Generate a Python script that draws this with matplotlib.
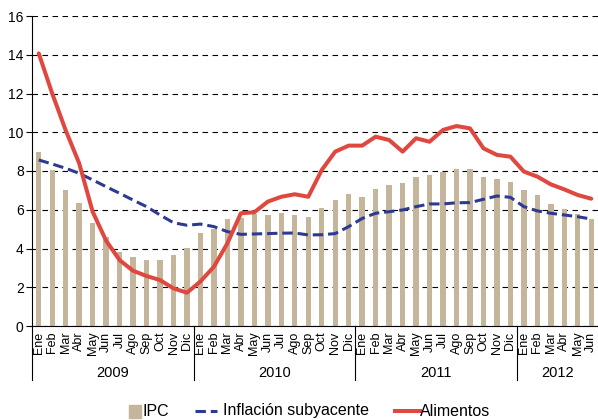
import matplotlib
matplotlib.use("Agg")
import matplotlib.pyplot as plt
import matplotlib.transforms as mtransforms
from matplotlib.lines import Line2D
from matplotlib.patches import Rectangle

plt.rcParams['font.family'] = ['Liberation Sans', 'DejaVu Sans']

meses = ["Ene", "Feb", "Mar", "Abr", "May", "Jun", "Jul", "Ago", "Sep", "Oct", "Nov", "Dic"]
anios = ["2009", "2010", "2011", "2012"]
etiquetas = meses * 3 + meses[:6]

ipc = [9.0, 8.05, 7.0, 6.36, 5.33, 4.6, 3.84, 3.58, 3.39, 3.39, 3.65, 4.03,
       4.82, 4.99, 5.5, 5.6, 5.8, 5.71, 5.85, 5.71, 5.64, 6.09, 6.49, 6.81,
       6.67, 7.07, 7.26, 7.38, 7.71, 7.78, 7.97, 8.09, 8.09, 7.71, 7.57, 7.45,
       7.0, 6.74, 6.3, 6.04, 5.78, 5.52]

subyacente = [8.57, 8.36, 8.14, 7.88, 7.54, 7.19, 6.85, 6.5, 6.16, 5.73, 5.33, 5.2,
              5.26, 5.13, 4.87, 4.73, 4.75, 4.77, 4.79, 4.8, 4.7, 4.71, 4.77, 5.13,
              5.55, 5.82, 5.9, 5.99, 6.16, 6.3, 6.3, 6.36, 6.37, 6.54, 6.71, 6.64,
              6.16, 5.94, 5.82, 5.73, 5.64, 5.52]

alimentos = [14.07, 12.0, 10.1, 8.4, 5.9, 4.4, 3.4, 2.85, 2.58, 2.37, 1.94, 1.72,
             2.3, 3.06, 4.27, 5.82, 5.87, 6.42, 6.67, 6.8, 6.67, 8.05, 9.0, 9.31,
             9.31, 9.77, 9.6, 9.0, 9.69, 9.51, 10.12, 10.32, 10.2, 9.17, 8.83, 8.74,
             7.97, 7.71, 7.31, 7.05, 6.76, 6.57]

c_ipc = "#C4B59B"
c_sub = "#2E3A92"
c_ali = "#E0483F"
guion = (0, (3.4, 1.6))

x = list(range(len(ipc)))

W, H = 598, 420
fig = plt.figure(figsize=(W / 100, H / 100), dpi=100)
ax = fig.add_axes([32 / W, 1 - 326 / H, 566 / W, 310 / H])

ax.bar(x, ipc, width=0.4, color=c_ipc, zorder=2)
ax.plot(x, subyacente, color=c_sub, lw=2.2, ls=guion, zorder=3)
ax.plot(x, alimentos, color=c_ali, lw=2.9, solid_joinstyle='round', solid_capstyle='round', zorder=4)

ax.set_xlim(-0.5, 41.5)
ax.set_ylim(0, 16)
ax.set_yticks(range(0, 17, 2))
ax.yaxis.grid(True, color="black", ls=(0, (5, 4)), lw=0.8)
ax.set_axisbelow(True)
ax.tick_params(axis='y', labelsize=10, length=4, width=0.8, direction='out', pad=2)

ax.set_xticks(x)
ax.set_xticklabels(etiquetas, rotation=90, fontsize=9)
ax.tick_params(axis='x', length=0, pad=4)

for lado in ["top", "right"]:
    ax.spines[lado].set_visible(False)
ax.spines["left"].set_linewidth(0.8)
ax.spines["bottom"].set_linewidth(0.8)

trans = mtransforms.blended_transform_factory(ax.transData, ax.transAxes)
for xs in [-0.5, 11.5, 23.5, 35.5]:
    ax.plot([xs, xs], [0, -54 / 310], color="black", lw=0.8, transform=trans, clip_on=False)

centros = [5.5, 17.5, 29.5, 38.5]
for c, a in zip(centros, anios):
    ax.text(c, -47 / 310, a, transform=trans, ha="center", va="center", fontsize=10.5)

# leyenda manual (posiciones en pixeles de la figura)
yl = 1 - 411 / H
fig.add_artist(Rectangle((129 / W, 1 - 418 / H), 12 / W, 13 / H, color=c_ipc, transform=fig.transFigure))
fig.text(143 / W, yl, "IPC", va="center", ha="left", fontsize=11.5)
fig.add_artist(Line2D([195 / W, 217 / W], [yl, yl], color=c_sub, lw=2.2, ls=guion, transform=fig.transFigure))
fig.text(223 / W, yl, "Inflación subyacente", va="center", ha="left", fontsize=11.5)
fig.add_artist(Line2D([395 / W, 420 / W], [yl, yl], color=c_ali, lw=2.9, transform=fig.transFigure))
fig.text(420 / W, yl, "Alimentos", va="center", ha="left", fontsize=11.5)

fig.savefig("out.png", dpi=100)
